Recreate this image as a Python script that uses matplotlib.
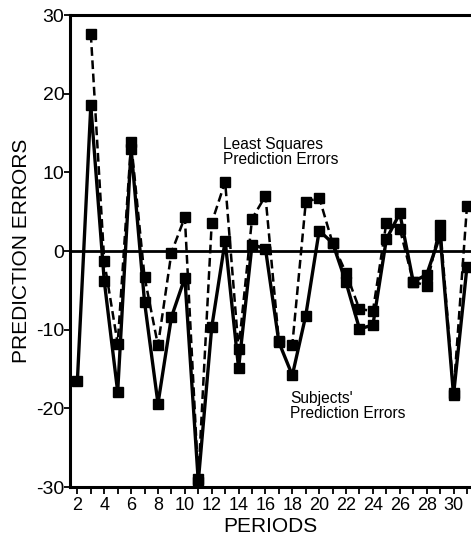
import matplotlib
matplotlib.use("Agg")
import matplotlib.pyplot as plt
from matplotlib.ticker import MultipleLocator

plt.rcParams['font.family'] = ['Liberation Sans', 'DejaVu Sans']
plt.rcParams['axes.unicode_minus'] = False

# periods and prediction errors
subj_periods = list(range(2, 32))
subjects = [-16.5, 18.5, -3.8, -17.9, 13.0, -6.5, -19.4, -8.4, -3.4, -29.3,
            -9.7, 1.3, -14.9, 0.8, 0.3, -11.6, -15.8, -8.2, 2.6, 1.0,
            -4.0, -9.9, -9.4, 1.5, 4.8, -3.9, -3.0, 2.0, -18.3, -2.0]
ls_periods = list(range(3, 32))
least_squares = [27.6, -1.3, -11.8, 13.8, -3.3, -12.0, -0.2, 4.3, -29.0,
                 3.6, 8.8, -12.5, 4.1, 7.0, -11.5, -11.9, 6.2, 6.8, 1.0,
                 -2.8, -7.4, -7.6, 3.6, 2.8, -3.9, -4.4, 3.3, -18.0, 5.7]

fig = plt.figure(figsize=(4.71, 5.46), dpi=100)
ax = fig.add_axes([0.1486, 0.108, 0.8514, 0.8645])

ax.axhline(0, color='black', lw=2.0, zorder=1)
ax.plot(subj_periods, subjects, color='black', lw=2.4, marker='s',
        markersize=6.5, zorder=3)
ax.plot(ls_periods, least_squares, color='black', lw=1.8, ls=(0, (3.5, 1.8)),
        marker='s', markersize=6.5, zorder=2)

ax.set_xlim(1.45, 31.3)
ax.set_ylim(-30, 30)
ax.set_yticks([-30, -20, -10, 0, 10, 20, 30])
ax.set_xticks(range(2, 31, 2))
ax.xaxis.set_minor_locator(MultipleLocator(1))
ax.tick_params(axis='x', which='both', direction='out', length=5, width=1.3,
               labelsize=13, pad=2)
ax.tick_params(axis='y', direction='out', length=4, width=1.3, labelsize=14,
               pad=0)
for lbl in ax.get_xticklabels():
    lbl.set_fontstretch('condensed')

ax.spines['right'].set_visible(False)
for s in ['left', 'top', 'bottom']:
    ax.spines[s].set_linewidth(2.2)

ax.set_xlabel('PERIODS', fontsize=15, labelpad=2)
ax.set_ylabel('PREDICTION ERRORS', fontsize=15, labelpad=4)

ax.text(12.85, 12.6, 'Least Squares\nPrediction Errors', fontsize=11.2,
        ha='left', va='center', linespacing=0.95)
ax.text(17.85, -19.7, "Subjects'\nPrediction Errors", fontsize=11.2,
        ha='left', va='center', linespacing=0.95)

fig.savefig('out.png', dpi=100)
